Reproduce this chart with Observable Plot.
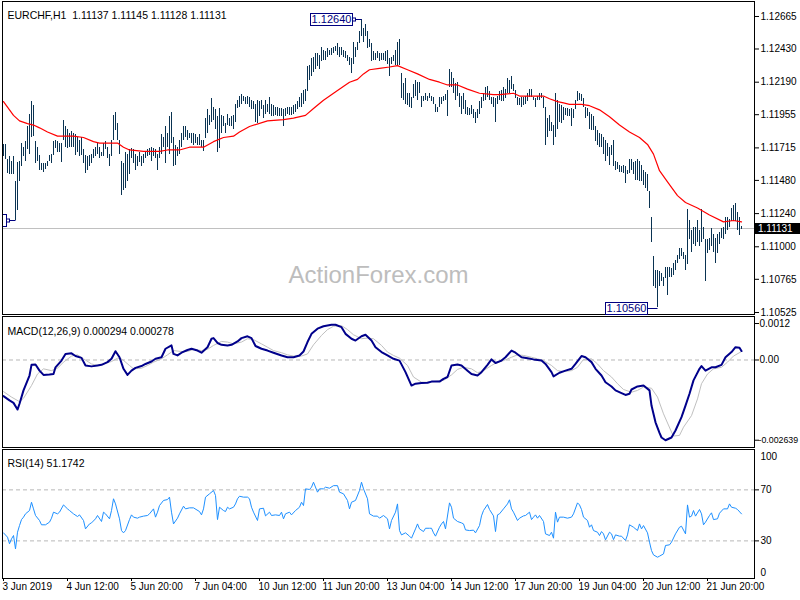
<!DOCTYPE html>
<html><head><meta charset="utf-8">
<script src="https://cdn.jsdelivr.net/npm/d3@7"></script>
<script src="https://cdn.jsdelivr.net/npm/@observablehq/plot@0.6"></script>
<style>
html,body{margin:0;padding:0;background:#fff;}
#wrap{position:relative;width:800px;height:600px;overflow:hidden;background:#fff;}
#wrap > div{position:absolute;left:0;}
</style></head><body>
<div id="wrap"><div id="p1" style="top:0px"></div><div id="p2" style="top:315px"></div><div id="p3" style="top:448px"></div></div>
<script>
// ---------- DATA ----------
const titleText = "EURCHF,H1\u00a0\u00a01.11137 1.11145 1.11128 1.11131";
const macdTitle = "MACD(12,26,9) 0.000294 0.000278";
const rsiTitle = "RSI(14) 51.1742";
const watermark = "ActionForex.com";
const lastClose = 1.11131;
const priceTicks = [1.12665, 1.12430, 1.12190, 1.11955, 1.11715, 1.11480, 1.11240, 1.11000, 1.10765, 1.10525];
const macdTicks = [0.0012, 0, -0.002639];
const macdTickLabels = ["0.0012", "0.00", "-0.002639"];
const rsiLevels = [70, 30];
const xTickIdx = [0, 32, 64, 96, 128, 160, 192, 224, 256, 288, 320, 352];
const xTickLabels = ["3 Jun 2019","4 Jun 12:00","5 Jun 20:00","7 Jun 04:00","10 Jun 12:00","11 Jun 20:00","13 Jun 04:00","14 Jun 12:00","17 Jun 20:00","19 Jun 04:00","20 Jun 12:00","21 Jun 20:00"];

// hourly bar highs (index 0..369)
const highs = [
1.1174,1.1174,1.1163,1.1165,1.1162,1.1165,1.1147,1.1161,1.1162,1.1175,
1.1172,1.1176,1.1187,1.1196,1.1205,1.1202,1.1176,1.1172,1.1166,1.1160,
1.1160,1.1160,1.1162,1.1166,1.1167,1.1176,1.1177,1.1176,1.1175,1.1175,
1.1191,1.1187,1.1185,1.1182,1.1183,1.1182,1.1181,1.1179,1.1177,1.1179,
1.1170,1.1166,1.1165,1.1166,1.1167,1.1170,1.1172,1.1175,1.1172,1.1168,
1.1175,1.1176,1.1172,1.1167,1.1177,1.1195,1.1197,1.1189,1.1177,1.1162,
1.1160,1.1168,1.1167,1.1170,1.1171,1.1170,1.1167,1.1165,1.1168,1.1165,
1.1167,1.1168,1.1170,1.1171,1.1172,1.1171,1.1170,1.1167,1.1172,1.1181,
1.1179,1.1187,1.1182,1.1194,1.1197,1.1179,1.1173,1.1172,1.1177,1.1182,
1.1187,1.1187,1.1184,1.1182,
1.1182,1.1182,1.1181,1.1179,1.1181,1.1177,
1.1177,1.1193,1.1199,1.1195,1.1207,1.1201,1.1199,1.1194,1.1200,1.1195,
1.1194,1.1189,1.1196,1.1193,1.1194,1.1195,1.1203,1.1206,1.1209,1.1210,
1.1209,1.1208,1.1209,1.1208,1.1206,1.1205,1.1203,1.1206,1.1205,1.1206,
1.1202,1.1206,1.1203,1.1208,1.1203,1.1202,1.1201,1.1201,1.1200,1.1200,
1.1199,1.1200,1.1201,1.1201,1.1201,1.1202,1.1203,1.1205,1.1208,1.1211,
1.1213,1.1214,1.1230,1.1231,1.1236,1.1237,1.1240,1.1240,1.1238,1.1244,
1.1242,1.1241,1.1243,1.1242,1.1243,1.1244,1.1245,1.1247,1.1244,1.1244,
1.1242,1.1241,1.1238,1.1237,1.1236,1.1248,1.1244,1.1248,1.1256,1.1264,
1.1258,1.1261,1.1256,1.1250,1.1247,1.1241,1.1240,1.1241,1.1240,
1.1240,1.1240,1.1241,1.1242,1.1236,1.1237,1.1238,1.1242,1.1248,1.1250,1.1225,
1.1218,1.1222,1.1211,1.1211,1.1208,1.1217,1.1220,1.1219,1.1219,1.1209,
1.1209,1.1211,1.1209,1.1211,1.1209,1.1208,1.1203,1.1201,1.1208,1.1208,
1.1209,1.1210,1.1213,1.1228,1.1226,1.1222,1.1218,1.1219,1.1211,1.1209,
1.1211,1.1206,1.1201,1.1200,1.1202,1.1199,1.1197,1.1199,1.1205,1.1208,
1.1211,1.1215,1.1216,1.1212,1.1208,1.1208,1.1207,1.1209,1.1212,1.1213,
1.1215,1.1214,1.1222,1.1220,1.1223,1.1217,1.1213,1.1208,1.1207,1.1208,
1.1208,1.1209,1.1211,1.1214,1.1214,1.1208,1.1207,1.1209,1.1211,1.1211,
1.1208,1.1201,1.1193,1.1195,1.1190,1.1188,1.1211,1.1206,1.1203,1.1202,
1.1201,1.1200,1.1200,1.1199,
1.1200,1.1199,1.1206,1.1212,1.1211,1.1210,
1.1207,1.1201,1.1200,1.1197,1.1196,1.1194,1.1187,1.1184,1.1182,1.1181,
1.1179,1.1177,1.1175,1.1172,1.1173,1.1177,1.1162,1.1161,1.1159,1.1158,
1.1159,1.1158,1.1155,1.1163,1.1163,1.1161,1.1162,1.1163,1.1162,1.1159,
1.1155,1.1154,1.1152,1.1140,1.1121,1.1093,1.1083,1.1083,1.1082,1.1081,
1.1078,1.1085,1.1085,1.1085,1.1084,1.1088,1.1090,1.1094,1.1099,1.1099,
1.1096,1.1094,1.1127,1.1119,1.1112,1.1114,1.1114,1.1119,1.1112,1.1127,
1.1114,1.1105,1.1105,1.1106,1.1113,1.1109,1.1106,1.1109,1.1110,1.1113,
1.1114,1.1121,1.1121,1.1120,1.1128,1.1130,1.1131,1.1125,1.1121,1.11145
];
// hourly bar lows (index 0..369)
const lows = [
1.1165,1.1163,1.1153,1.1152,1.1152,1.1152,1.1119,1.1126,1.1147,1.1158,
1.1165,1.1162,1.1170,1.1167,1.1179,1.1180,1.1160,1.1162,1.1155,1.1155,
1.1154,1.1156,1.1158,1.1162,1.1160,1.1166,1.1171,1.1168,1.1168,1.1161,
1.1177,1.1172,1.1171,1.1172,1.1172,1.1172,1.1166,1.1168,1.1165,1.1166,
1.1160,1.1153,1.1155,1.1158,1.1160,1.1164,1.1165,1.1167,1.1164,1.1165,
1.1165,1.1170,1.1164,1.1158,1.1165,1.1177,1.1184,1.1177,1.1167,1.1137,
1.1141,1.1142,1.1147,1.1152,1.1164,1.1160,1.1155,1.1158,1.1161,1.1158,
1.1160,1.1164,1.1165,1.1166,1.1162,1.1165,1.1164,1.1155,1.1164,1.1167,
1.1172,1.1160,1.1172,1.1167,1.1175,1.1158,1.1159,1.1165,1.1167,1.1172,
1.1177,1.1179,1.1177,1.1178,
1.1175,1.1173,1.1175,1.1173,1.1173,1.1172,
1.1169,1.1178,1.1182,1.1188,1.1190,1.1191,1.1185,1.1168,1.1171,1.1182,
1.1187,1.1182,1.1188,1.1187,1.1187,1.1185,1.1190,1.1200,1.1201,1.1203,
1.1205,1.1203,1.1203,1.1201,1.1199,1.1199,1.1190,1.1189,1.1194,1.1199,
1.1193,1.1196,1.1197,1.1196,1.1194,1.1194,1.1195,1.1194,1.1194,1.1194,
1.1187,1.1194,1.1196,1.1195,1.1195,1.1196,1.1197,1.1199,1.1201,1.1201,
1.1203,1.1205,1.1212,1.1220,1.1223,1.1226,1.1228,1.1230,1.1228,1.1234,
1.1235,1.1235,1.1237,1.1238,1.1238,1.1240,1.1241,1.1238,1.1237,1.1238,
1.1237,1.1236,1.1234,1.1231,1.1225,1.1232,1.1237,1.1242,1.1247,1.1252,
1.1248,1.1252,1.1243,1.1244,1.1234,1.1235,1.1235,1.1236,1.1234,
1.1235,1.1235,1.1234,1.1232,1.1223,1.1232,1.1234,1.1231,1.1231,1.1231,1.1207,
1.1206,1.1203,1.1202,1.1201,1.1200,1.1207,1.1209,1.1206,1.1211,1.1201,
1.1205,1.1206,1.1205,1.1207,1.1205,1.1203,1.1197,1.1197,1.1201,1.1203,
1.1205,1.1206,1.1194,1.1215,1.1215,1.1211,1.1206,1.1209,1.1201,1.1196,
1.1199,1.1196,1.1195,1.1195,1.1196,1.1193,1.1189,1.1193,1.1196,1.1200,
1.1205,1.1206,1.1208,1.1206,1.1203,1.1201,1.1190,1.1203,1.1206,1.1205,
1.1205,1.1207,1.1211,1.1211,1.1214,1.1212,1.1207,1.1202,1.1202,1.1201,
1.1202,1.1203,1.1205,1.1208,1.1208,1.1206,1.1201,1.1206,1.1206,1.1207,
1.1200,1.1173,1.1179,1.1183,1.1183,1.1173,1.1179,1.1185,1.1190,1.1189,
1.1191,1.1195,1.1194,1.1194,
1.1187,1.1193,1.1199,1.1205,1.1206,1.1205,
1.1201,1.1193,1.1194,1.1185,1.1184,1.1184,1.1176,1.1173,1.1172,1.1172,
1.1167,1.1162,1.1165,1.1159,1.1166,1.1158,1.1155,1.1156,1.1154,1.1154,
1.1153,1.1146,1.1152,1.1153,1.1155,1.1152,1.1148,1.1148,1.1147,1.1147,
1.1144,1.1142,1.1140,1.1128,1.1103,1.1071,1.1070,1.1056,1.1071,1.1075,
1.1071,1.1077,1.1065,1.1078,1.1078,1.1079,1.1083,1.1088,1.1091,1.1093,
1.1091,1.1083,1.1087,1.1105,1.1096,1.1102,1.1100,1.1103,1.1100,1.1103,
1.1105,1.1075,1.1095,1.1097,1.1100,1.1096,1.1088,1.1095,1.1102,1.1106,
1.1105,1.1109,1.1112,1.1114,1.1118,1.1119,1.1118,1.1112,1.1108,1.11128
];
// moving average [bar index, value]
const maSeries = [[0,1.1205],[5,1.1195],[8,1.1191],[12,1.1189],[15,1.1188],[18,1.1186],[22,1.1183],[27,1.1180],[35,1.1180],[40,1.1179],[45,1.1176],[48,1.1175],[57,1.1175],[60,1.1172],[63,1.1170],[70,1.1169],[78,1.1169],[82,1.1170],[88,1.1170],[93,1.1172],[100,1.1172],[105,1.1176],[110,1.1179],[115,1.1180],[118,1.1183],[123,1.1187],[132,1.1191],[140,1.1192],[145,1.1193],[151,1.1195],[155,1.1200],[160,1.1206],[167,1.1213],[173,1.1219],[177,1.1221],[180,1.1225],[183,1.1228],[188,1.1229],[193,1.1230],[197,1.1231],[202,1.1228],[207,1.1225],[213,1.1221],[218,1.1219],[222,1.1217],[227,1.1217],[232,1.1214],[238,1.1211],[245,1.1210],[248,1.1210],[255,1.1211],[258,1.1209],[265,1.1209],[270,1.1209],[273,1.1207],[277,1.1205],[280,1.1204],[283,1.1203],[289,1.1203],[293,1.1202],[298,1.1199],[303,1.1194],[308,1.1188],[313,1.1183],[318,1.1179],[322,1.1174],[325,1.1167],[328,1.1155],[332,1.1147],[337,1.1137],[341,1.1132],[347,1.1128],[353,1.1123],[360,1.1118],[365,1.1119],[369,1.1118]];
// MACD main line [bar index, value]
const macdSeries = [[0,-0.00119],[3,-0.00133],[5,-0.00141],[7,-0.00163],[8,-0.00144],[10,-0.00100],[13,-0.00051],[14,-0.00016],[16,-0.00015],[18,-0.00035],[20,-0.00049],[23,-0.00048],[25,-0.00046],[26,-0.00024],[29,-0.00002],[31,0.00020],[34,0.00022],[36,0.00013],[39,0.00007],[41,-0.00018],[44,-0.00021],[47,-0.00018],[49,-0.00016],[52,-0.00007],[54,0.00004],[56,0.00029],[58,0.00009],[60,-0.00029],[62,-0.00049],[64,-0.00035],[66,-0.00026],[69,-0.00020],[71,-0.00013],[74,-0.00005],[76,0.00004],[79,0.00009],[81,0.00037],[84,0.00048],[85,0.00020],[87,0.00015],[89,0.00024],[92,0.00033],[94,0.00037],[97,0.00031],[99,0.00024],[102,0.00042],[104,0.00070],[105,0.00072],[107,0.00056],[109,0.00050],[112,0.00048],[114,0.00050],[117,0.00061],[119,0.00072],[122,0.00078],[124,0.00072],[126,0.00046],[129,0.00037],[132,0.00031],[135,0.00024],[139,0.00015],[142,0.00009],[145,0.00009],[148,0.00015],[150,0.00028],[152,0.00059],[154,0.00086],[157,0.00103],[160,0.00111],[164,0.00116],[166,0.00116],[169,0.00108],[171,0.00086],[174,0.00070],[176,0.00064],[179,0.00078],[181,0.00083],[184,0.00064],[186,0.00042],[189,0.00026],[192,0.00015],[195,0.00004],[198,-0.00002],[201,-0.00040],[204,-0.00084],[206,-0.00078],[209,-0.00076],[212,-0.00075],[214,-0.00071],[218,-0.00071],[220,-0.00062],[222,-0.00056],[224,-0.00018],[227,-0.00015],[229,-0.00018],[232,-0.00035],[234,-0.00046],[237,-0.00051],[239,-0.00040],[242,-0.00016],[244,0.00002],[246,-0.00010],[249,-0.00002],[251,0.00009],[254,0.00031],[256,0.00024],[259,0.00009],[262,0.00006],[265,0.00002],[269,-0.00002],[271,-0.00013],[274,-0.00040],[275,-0.00054],[278,-0.00042],[281,-0.00035],[284,-0.00029],[286,-0.00013],[289,0.00013],[291,0.00009],[294,-0.00007],[296,-0.00029],[299,-0.00051],[301,-0.00073],[304,-0.00087],[306,-0.00100],[309,-0.00109],[311,-0.00115],[313,-0.00111],[314,-0.00097],[317,-0.00087],[320,-0.00084],[323,-0.00100],[324,-0.00150],[326,-0.00205],[328,-0.00240],[329,-0.00255],[331,-0.002639],[334,-0.00255],[336,-0.00232],[339,-0.00188],[341,-0.00150],[343,-0.00111],[345,-0.00067],[348,-0.00029],[349,-0.00020],[351,-0.00035],[354,-0.00024],[356,-0.00024],[359,-0.00016],[361,0.00009],[364,0.00026],[366,0.00042],[368,0.00040],[369,0.000294]];
// MACD signal line [bar index, value]
const signalSeries = [[0,-0.00104],[4,-0.00122],[8,-0.00137],[10,-0.00126],[14,-0.00084],[17,-0.00046],[20,-0.00029],[24,-0.00035],[27,-0.00027],[30,-0.00007],[34,0.00013],[37,0.00017],[40,0.00004],[44,-0.00013],[47,-0.00018],[50,-0.00013],[54,-0.00005],[57,0.00006],[59,0.00004],[63,-0.00018],[65,-0.00029],[69,-0.00027],[72,-0.00018],[75,-0.00007],[79,0.00004],[82,0.00017],[85,0.00031],[89,0.00028],[92,0.00028],[95,0.00035],[99,0.00031],[102,0.00035],[105,0.00048],[109,0.00061],[112,0.00059],[115,0.00053],[119,0.00059],[122,0.00070],[125,0.00067],[129,0.00053],[132,0.00042],[135,0.00031],[139,0.00024],[142,0.00017],[145,0.00013],[149,0.00013],[152,0.00020],[155,0.00050],[159,0.00081],[162,0.00100],[165,0.00111],[169,0.00113],[172,0.00100],[175,0.00083],[179,0.00070],[182,0.00072],[185,0.00070],[189,0.00048],[192,0.00026],[195,0.00015],[198,0.00006],[202,-0.00018],[205,-0.00056],[209,-0.00073],[212,-0.00073],[215,-0.00071],[220,-0.00067],[224,-0.00049],[227,-0.00031],[230,-0.00024],[234,-0.00029],[237,-0.00042],[240,-0.00035],[244,-0.00018],[247,-0.00007],[250,-0.00002],[254,0.00009],[257,0.00017],[260,0.00015],[264,0.00009],[267,0.00004],[270,-0.00002],[274,-0.00018],[277,-0.00035],[280,-0.00038],[284,-0.00035],[287,-0.00024],[290,0.00002],[294,0.00004],[297,-0.00013],[300,-0.00035],[304,-0.00056],[307,-0.00078],[310,-0.00097],[314,-0.00106],[317,-0.00100],[320,-0.00089],[324,-0.00093],[327,-0.00122],[330,-0.00177],[334,-0.00237],[335,-0.00250],[338,-0.00248],[340,-0.00221],[344,-0.00183],[347,-0.00128],[349,-0.00078],[352,-0.00046],[355,-0.00029],[359,-0.00024],[362,-0.00007],[365,0.00013],[369,0.000278]];
// RSI(14) [bar index, value]
const rsiSeries = [[0,36.3],[2,32.9],[3,27.7],[4,31.6],[5,34.2],[6,23.7],[7,36.8],[8,42.0],[9,46.7],[10,48.6],[11,51.2],[13,53.8],[14,60.3],[15,55.1],[16,49.9],[18,46.0],[19,42.6],[21,42.6],[23,44.7],[24,47.8],[25,52.5],[27,51.2],[28,52.5],[30,58.2],[32,55.1],[33,53.8],[35,51.2],[37,49.1],[38,50.4],[40,46.0],[41,39.4],[43,43.3],[44,44.1],[46,47.3],[47,49.9],[49,45.2],[50,52.5],[51,51.2],[53,47.3],[54,53.8],[55,63.0],[56,59.0],[58,47.3],[59,38.1],[60,36.3],[61,38.1],[63,46.7],[64,50.4],[65,48.6],[67,47.8],[68,48.6],[70,49.4],[72,49.9],[73,51.2],[75,55.1],[76,48.6],[77,52.5],[78,57.7],[80,61.7],[82,62.4],[83,64.3],[84,52.5],[85,43.3],[87,47.8],[88,51.2],[90,57.2],[91,55.1],[93,55.9],[95,55.9],[98,53.0],[99,50.4],[100,55.1],[101,64.3],[103,66.9],[105,69.5],[106,65.6],[107,46.7],[108,56.4],[110,53.8],[111,53.0],[112,56.4],[113,55.1],[115,56.4],[116,59.0],[117,63.0],[118,65.0],[120,64.3],[122,64.3],[123,63.0],[124,56.4],[125,52.5],[127,46.0],[128,55.1],[130,55.6],[131,49.6],[133,52.5],[134,49.9],[136,50.4],[138,49.9],[139,52.5],[140,47.3],[141,51.2],[143,52.5],[144,50.4],[146,53.8],[148,56.4],[149,60.3],[150,57.7],[151,70.8],[153,70.3],[154,72.1],[155,76.0],[157,68.2],[158,70.8],[160,70.8],[161,72.1],[163,71.3],[165,73.3],[167,73.3],[168,68.2],[170,66.9],[172,61.7],[173,55.1],[174,60.3],[176,61.7],[178,69.5],[179,76.0],[180,70.8],[182,63.0],[183,51.2],[185,49.4],[187,49.4],[188,47.8],[190,49.9],[192,47.3],[193,39.4],[194,46.0],[196,52.5],[197,59.0],[198,38.1],[199,34.7],[201,36.3],[203,33.7],[204,32.1],[206,39.4],[207,43.3],[208,39.4],[210,37.3],[211,39.9],[213,39.9],[214,39.9],[215,36.3],[216,33.7],[218,40.7],[219,43.3],[220,45.2],[221,39.4],[223,59.8],[224,56.4],[225,47.8],[227,45.2],[229,44.1],[230,43.3],[231,38.6],[233,38.1],[235,38.4],[236,36.3],[238,42.0],[239,49.6],[240,53.8],[242,58.5],[243,54.6],[245,49.6],[246,37.3],[247,50.4],[248,51.2],[250,55.1],[252,59.0],[253,62.2],[254,55.1],[255,52.5],[257,46.0],[258,47.8],[260,49.6],[261,49.9],[263,52.5],[264,46.7],[265,48.6],[266,50.4],[267,47.8],[268,49.9],[270,45.2],[271,35.5],[273,34.2],[274,36.8],[275,32.1],[276,52.5],[277,44.7],[278,48.6],[280,48.6],[282,47.8],[284,48.6],[285,51.2],[287,59.8],[288,58.2],[289,54.6],[290,48.6],[292,46.0],[293,40.7],[294,42.6],[295,38.1],[297,36.8],[298,34.2],[299,37.3],[300,35.5],[301,30.8],[303,36.8],[304,35.5],[305,31.0],[306,34.7],[308,33.7],[309,33.7],[311,30.3],[312,34.7],[313,42.6],[315,40.7],[317,38.1],[318,43.3],[319,39.4],[320,42.0],[322,36.3],[323,29.0],[324,22.4],[325,19.0],[327,17.2],[328,18.0],[330,19.8],[331,26.4],[333,26.9],[334,29.0],[336,35.5],[338,40.7],[339,41.5],[341,35.5],[342,58.2],[343,48.6],[344,49.4],[345,53.8],[346,49.4],[348,54.6],[349,51.2],[350,42.6],[351,44.7],[353,49.9],[354,52.0],[355,46.7],[357,47.3],[358,51.7],[360,55.1],[362,55.1],[363,59.0],[364,56.4],[366,55.6],[367,54.6],[369,51.1742]];

// ---------- CHART ----------
const FONT = "'Liberation Sans', Arial, sans-serif";
const BAR = "#0a3352";
const baseStyle = {background: "transparent", fontFamily: FONT, fontSize: "10px", color: "#000", overflow: "visible"};
const XDOM = [-0.5, 375.5];
const n = Math.min(highs.length, lows.length);
const bars = d3.range(n).map(i => ({i, high: highs[i], low: lows[i]}));
const toObj = s => s.map(([i, v]) => ({i, v}));

const p1 = Plot.plot({
  width: 800, height: 316, marginTop: 1, marginBottom: 2, marginLeft: 2, marginRight: 46,
  style: baseStyle,
  x: {domain: XDOM, axis: null},
  y: {domain: [1.105105, 1.127734], axis: "right", ticks: priceTicks, tickFormat: d => d.toFixed(5), tickSize: 4, tickPadding: 2, label: null},
  marks: [
    Plot.text([watermark], {text: d => d, frameAnchor: "top", dy: 264, fontSize: 24, fill: "#bdbdbd", fontFamily: FONT}),
    Plot.ruleY([lastClose], {stroke: "#c0c0c0"}),
    Plot.ruleX(bars, {x: "i", y1: "low", y2: "high", stroke: BAR, strokeWidth: 1, shapeRendering: "crispEdges"}),
    Plot.line(toObj(maSeries), {x: "i", y: "v", stroke: "#ff0000", strokeWidth: 1.2}),
    Plot.frame({stroke: "#000"}),
    Plot.text([titleText], {text: d => d, frameAnchor: "top-left", dx: 5, dy: 9.7, textAnchor: "start", fill: "#000", fontSize: 10.5})
  ]
});
document.getElementById("p1").appendChild(p1);
// snap each vertical bar onto a single device pixel column (crisp 1px bars)
d3.select(p1).selectAll('g[aria-label="rule"]').each(function () {
  const t = this.getAttribute("transform") || "";
  const m = /translate\(\s*([-\d.eE]+)/.exec(t);
  const tx = m ? +m[1] : 0;
  this.setAttribute("shape-rendering", "crispEdges");
  d3.select(this).selectAll("line").each(function () {
    const x1 = this.getAttribute("x1"), x2 = this.getAttribute("x2");
    if (x1 === null || x1 !== x2) return; // leave horizontal rules alone
    const fixed = Math.floor(+x1 + tx) + 0.5 - tx;
    this.setAttribute("x1", fixed); this.setAttribute("x2", fixed);
  });
});

// annotations drawn with the plot's own scales
(function () {
  const sx = p1.scale("x"), sy = p1.scale("y");
  const X = d3.scaleLinear().domain(sx.domain).range(sx.range);
  const Y = d3.scaleLinear().domain(sy.domain).range(sy.range);
  const svg = d3.select(p1);
  const fx0 = sx.range[0], fx1 = sx.range[1];
  const fy0 = Math.min(...sy.range), fy1 = Math.max(...sy.range);
  svg.append("clipPath").attr("id", "mainclip").append("rect")
    .attr("x", fx0 + 1).attr("y", fy0 + 1).attr("width", fx1 - fx0 - 1).attr("height", fy1 - fy0);
  const g = svg.append("g").attr("clip-path", "url(#mainclip)");
  const NAVY = "#000080";
  function priceLabel(i, price, text, square, dyOff) {
    const ax = X(i) + 0.5;
    const ay = Math.round(Y(price) + (dyOff || 0)) + 0.5;
    const bx2 = Math.round(ax - 10) + 0.5, bx1 = bx2 - 42;
    g.append("line").attr("x1", bx2).attr("x2", ax).attr("y1", ay).attr("y2", ay).attr("stroke", NAVY);
    g.append("rect").attr("x", bx1).attr("y", ay - 6).attr("width", 42).attr("height", 12)
      .attr("fill", "#fff").attr("stroke", NAVY);
    if (square) g.append("rect").attr("x", bx2).attr("y", ay - 1.5).attr("width", 3).attr("height", 3)
      .attr("fill", "#fff").attr("stroke", NAVY);
    if (text) g.append("text").attr("x", (bx1 + bx2) / 2).attr("y", ay).attr("dy", "0.36em")
      .attr("text-anchor", "middle").attr("fill", NAVY).attr("font-family", FONT).attr("font-size", 11).text(text);
  }
  const hiIdx = d3.maxIndex(highs), loIdx = d3.minIndex(lows);
  priceLabel(hiIdx, highs[hiIdx], highs[hiIdx].toFixed(5), true, 0);
  priceLabel(loIdx, lows[loIdx], lows[loIdx].toFixed(5), false, 1);
  priceLabel(6, lows[6], null, true, 0); // label scrolled off the left edge: only its box edge shows
  // current price tag
  const cy = Math.round(Y(lastClose));
  svg.append("rect").attr("x", fx1 + 1).attr("y", cy - 5).attr("width", 46).attr("height", 11).attr("fill", "#000");
  svg.append("text").attr("x", fx1 + 4).attr("y", cy + 0.5).attr("dy", "0.35em").attr("fill", "#fff")
    .attr("text-anchor", "start").attr("font-family", FONT).attr("font-size", 10).text(lastClose.toFixed(5));
})();

const p2 = Plot.plot({
  width: 800, height: 135, marginTop: 1, marginBottom: 3, marginLeft: 2, marginRight: 46,
  style: baseStyle,
  x: {domain: XDOM, axis: null},
  y: {domain: [-0.0028783, 0.0014309], axis: "right", ticks: macdTicks, tickFormat: () => "", tickSize: 4, label: null},
  marks: [
    Plot.ruleY([0], {stroke: "#b8b8b8", strokeDasharray: "4,3"}),
    Plot.line(toObj(signalSeries), {x: "i", y: "v", stroke: "#c0c0c0", strokeWidth: 1}),
    Plot.line(toObj(macdSeries), {x: "i", y: "v", stroke: "#00008b", strokeWidth: 2}),
    Plot.frame({stroke: "#000"}),
    Plot.text(macdTicks.slice(0, 2), {y: d => d, text: (d, i) => macdTickLabels[i], frameAnchor: "right", dx: 5, textAnchor: "start", fill: "#000", fontWeight: (d) => d === 0 ? "bold" : "normal"}),
    Plot.text(macdTicks.slice(2), {y: d => d, text: () => macdTickLabels[2], frameAnchor: "right", dx: 4, textAnchor: "start", fill: "#000", fontSize: 8.8}),
    Plot.text([macdTitle], {text: d => d, frameAnchor: "top-left", dx: 5, dy: 10.7, textAnchor: "start", fill: "#000", fontSize: 10.5})
  ]
});
document.getElementById("p2").appendChild(p2);

const p3 = Plot.plot({
  width: 800, height: 152, marginTop: 1, marginBottom: 22, marginLeft: 2, marginRight: 46,
  style: baseStyle,
  x: {domain: XDOM, axis: "bottom", ticks: xTickIdx, tickFormat: () => "", tickSize: 3, label: null},
  y: {domain: [0.5, 101.65], axis: "right", ticks: rsiLevels, tickFormat: () => "", tickSize: 4, label: null},
  marks: [
    Plot.ruleY(rsiLevels, {stroke: "#b8b8b8", strokeDasharray: "4,3"}),
    Plot.line(toObj(rsiSeries), {x: "i", y: "v", stroke: "#1e90ff", strokeWidth: 1}),
    Plot.frame({stroke: "#000"}),
    Plot.text(rsiLevels, {y: d => d, text: d => String(d), frameAnchor: "right", dx: 6, textAnchor: "start", fill: "#000"}),
    Plot.text([100], {y: d => d, text: d => String(d), frameAnchor: "right", dx: 6, dy: 5.6, textAnchor: "start", fill: "#000"}),
    Plot.text([0], {y: d => d, text: d => String(d), frameAnchor: "right", dx: 6, dy: -6.3, textAnchor: "start", fill: "#000"}),
    Plot.text(xTickIdx, {x: d => d, text: (d, i) => xTickLabels[i], frameAnchor: "bottom", dy: 11.5, dx: -1, textAnchor: "start", fill: "#000"}),
    Plot.text([rsiTitle], {text: d => d, frameAnchor: "top-left", dx: 5, dy: 10, textAnchor: "start", fill: "#000", fontSize: 10.5})
  ]
});
document.getElementById("p3").appendChild(p3);
</script>
</body></html>
